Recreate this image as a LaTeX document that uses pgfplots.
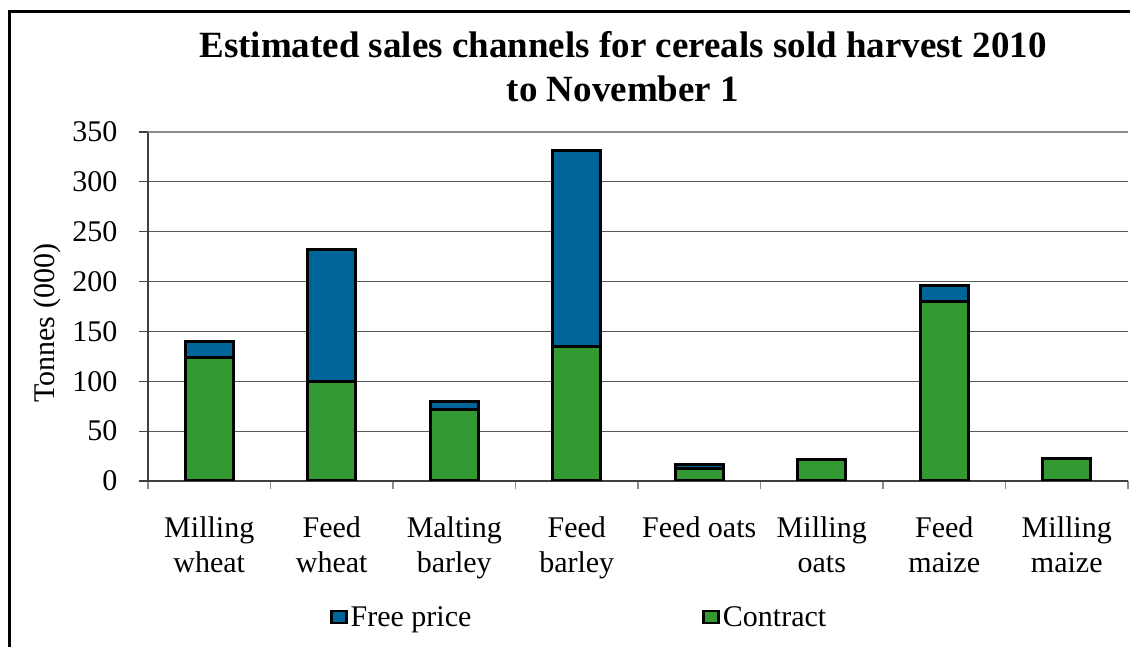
\documentclass[border=0pt]{standalone}
\usepackage{fontspec}
\setmainfont{Liberation Serif}
\usepackage{pgfplots}
\pgfplotsset{compat=1.18}
\definecolor{freeblue}{RGB}{0,101,153}
\definecolor{contractgreen}{RGB}{51,153,51}
\begin{document}
\begin{tikzpicture}
\draw[line width=3bp] (9bp,-20bp) -- (9bp,635.5bp) -- (1150bp,635.5bp);
\node[font=\fontsize{37bp}{44bp}\selectfont\bfseries, anchor=base] at (623bp,589bp) {Estimated sales channels for cereals sold harvest 2010};
\node[font=\fontsize{37bp}{44bp}\selectfont\bfseries, anchor=base] at (623bp,545bp) {to November 1};
\begin{axis}[
  at={(148bp,166bp)}, anchor=south west,
  scale only axis, width=980bp, height=349bp,
  xmin=-0.5, xmax=7.5, ymin=0, ymax=350,
  ybar stacked, bar width=48bp,
  axis lines*=left,
  axis line style={draw=black!75, line width=1.5bp},
  xtick={0,...,7},
  xticklabels={{Milling\\wheat},{Feed\\wheat},{Malting\\barley},{Feed\\barley},{Feed oats},{Milling\\oats},{Feed\\maize},{Milling\\maize}},
  minor xtick={-0.5,0.5,...,7.5},
  major x tick style={draw=none},
  minor x tick style={draw=black!45, line width=1.5bp},
  minor tick length=8bp,
  ytick={0,50,...,350},
  major y tick style={draw=black!75, line width=1.2bp},
  major tick length=9bp,
  tick align=outside,
  ymajorgrids,
  grid style={draw=black!65, line width=1.2bp},
  extra y ticks={350}, extra y tick labels={},
  extra y tick style={grid style={draw=black!45, line width=2.5bp}, major tick length=0pt},
  /pgf/number format/assume math mode=true,
  tick label style={font=\fontsize{30bp}{35bp}\selectfont},
  xticklabel style={align=center, anchor=north, yshift=-23bp},
  yticklabel style={anchor=east, xshift=-18bp},
  ylabel={Tonnes (000)},
  ylabel style={at={(axis description cs:-0.103,0.452)}, anchor=center, font=\fontsize{30bp}{35bp}\selectfont},
  legend columns=2,
  legend style={draw=none, fill=none, font=\fontsize{30bp}{35bp}\selectfont,
    at={(axis description cs:0.1857,-0.39)}, anchor=west, inner sep=0pt,
    /tikz/every even column/.append style={column sep=230bp},
    nodes={inner xsep=1bp}},
  legend image code/.code={\draw[#1, line width=2.5bp] (0bp,-6bp) rectangle (15bp,6bp);},
]
\addplot[fill=contractgreen, draw=black, line width=3bp, forget plot] coordinates {(0,124) (1,100) (2,72) (3,135) (4,13) (5,22) (6,180) (7,23)};
\addplot[fill=freeblue, draw=black, line width=3bp, forget plot] coordinates {(0,16) (1,132) (2,8) (3,196) (4,4) (5,0) (6,16) (7,0)};
\addlegendimage{fill=freeblue, draw=black}
\addlegendentry{\hspace{2bp}Free price}
\addlegendimage{fill=contractgreen, draw=black}
\addlegendentry{\hspace{2bp}Contract}
\end{axis}
\pgfresetboundingbox
\useasboundingbox (0,0) rectangle (1130bp,647bp);
\end{tikzpicture}
\end{document}
